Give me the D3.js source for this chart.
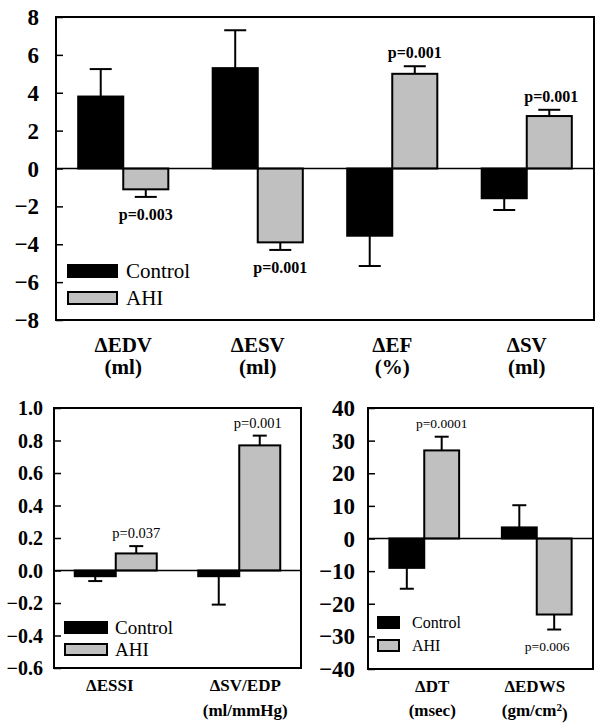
<!DOCTYPE html>
<html><head><meta charset="utf-8">
<script src="https://cdn.jsdelivr.net/npm/d3@7"></script>
<style>body{margin:0;background:#fff}svg{display:block}</style>
</head><body>
<script>
// ---- data ----
const series = ["Control", "AHI"];

const topCats = ["EDV", "ESV", "EF", "SV"];
const topUnits = ["(ml)", "(ml)", "(%)", "(ml)"];
const topControl = [3.8, 5.3, -3.55, -1.57];
const topControlErr = [1.45, 2.0, 1.6, 0.62];
const topAHI = [-1.1, -3.9, 5.0, 2.77];
const topAHIErr = [0.4, 0.4, 0.4, 0.33];
const topP = ["p=0.003", "p=0.001", "p=0.001", "p=0.001"];
const topTicks = [-8, -6, -4, -2, 0, 2, 4, 6, 8];

const blCats = ["ESSI", "SV/EDP"];
const blUnits = ["", "(ml/mmHg)"];
const blControl = [-0.035, -0.035];
const blControlErr = [0.03, 0.175];
const blAHI = [0.105, 0.77];
const blAHIErr = [0.045, 0.06];
const blP = ["p=0.037", "p=0.001"];
const blTicks = [-0.6, -0.4, -0.2, 0.0, 0.2, 0.4, 0.6, 0.8, 1.0];

const brCats = ["DT", "EDWS"];
const brUnits = ["(msec)", "(gm/cm\u00B2)"];
const brControl = [-9.0, 3.4];
const brControlErr = [6.4, 6.8];
const brAHI = [27.0, -23.3];
const brAHIErr = [4.2, 4.6];
const brP = ["p=0.0001", "p=0.006"];
const brTicks = [-40, -30, -20, -10, 0, 10, 20, 30, 40];

const FONT = "'Liberation Serif', 'Times New Roman', Times, 'DejaVu Serif', serif";
const svg = d3.select("body").append("svg").attr("width", 600).attr("height", 724)
  .attr("font-family", FONT).style("font-family", FONT);

function txt(g) {
  return g.append("text").attr("font-family", FONT).style("font-family", FONT);
}

function panel(o) {
  const g = svg.append("g");
  const x = d3.scaleBand().domain(o.cats).range([o.x0, o.x1]);
  const y = d3.scaleLinear().domain(o.domain).range([o.y1, o.y0]);
  const bw = x.bandwidth() * o.barFrac;
  const rows = o.cats.map((c, i) => ({
    cat: c, i,
    vals: [
      {s: "Control", v: o.control[i], e: o.controlErr[i]},
      {s: "AHI", v: o.ahi[i], e: o.ahiErr[i]}
    ]
  }));
  rows.forEach(r => {
    const cx = x(r.cat) + x.bandwidth() / 2;
    const xs = d3.scaleBand().domain(series).range([cx - bw, cx + bw]);
    r.vals.forEach(d => {
      const bx = xs(d.s), w = xs.bandwidth();
      const ends = d.v >= 0 ? d.v + d.e : d.v - d.e;
      const mx = bx + w / 2;
      g.append("line").attr("x1", mx).attr("x2", mx).attr("y1", y(d.v)).attr("y2", y(ends))
        .attr("stroke", "#000").attr("stroke-width", 2);
      g.append("line").attr("x1", mx - o.cap / 2).attr("x2", mx + o.cap / 2).attr("y1", y(ends)).attr("y2", y(ends))
        .attr("stroke", "#000").attr("stroke-width", 2);
      g.append("rect").attr("x", bx).attr("width", w)
        .attr("y", y(Math.max(0, d.v))).attr("height", Math.abs(y(d.v) - y(0)))
        .attr("fill", d.s === "Control" ? "#000" : "#c0c0c0")
        .attr("stroke", "#000").attr("stroke-width", 2);
      if (d.s === "AHI") {
        const ty = d.v >= 0 ? y(ends) - o.pUp : y(ends) + o.pDown;
        txt(g).attr("x", mx + (o.pDx ? o.pDx[r.i] : 0)).attr("y", ty).attr("text-anchor", "middle")
          .attr("font-size", o.pSize).attr("font-weight", o.pBold ? "bold" : "normal")
          .text(o.p[r.i]);
      }
    });
  });
  g.append("line").attr("x1", o.x0).attr("x2", o.x1).attr("y1", y(0)).attr("y2", y(0))
    .attr("stroke", "#000").attr("stroke-width", 1.5);
  const ax = g.append("g").attr("transform", `translate(${o.x0},0)`)
    .call(d3.axisRight(y).tickValues(o.ticks).tickSize(7).tickFormat(() => ""));
  ax.select(".domain").remove();
  ax.selectAll("line").attr("stroke", "#000").attr("stroke-width", 1.5);
  o.ticks.forEach(t => {
    txt(g).attr("x", o.labX).attr("y", y(t)).attr("dy", "0.35em").attr("text-anchor", "end")
      .attr("font-size", o.tickSize).attr("font-weight", "bold").text(d3.format(o.fmt)(t));
  });
  g.append("rect").attr("x", o.x0).attr("y", o.y0).attr("width", o.x1 - o.x0).attr("height", o.y1 - o.y0)
    .attr("fill", "none").attr("stroke", "#000").attr("stroke-width", 2);
  o.cats.forEach((c, i) => {
    const cx = x(c) + x.bandwidth() / 2 + (o.catDx ? o.catDx[i] : 0);
    txt(g).attr("x", cx).attr("y", o.catY).attr("text-anchor", "middle")
      .attr("font-size", o.catSize).attr("font-weight", "bold").text("\u0394" + c);
    if (o.units[i]) {
      const t = txt(g).attr("x", cx).attr("y", o.unitY).attr("text-anchor", "middle")
        .attr("font-size", o.catSize).attr("font-weight", "bold");
      if (o.units[i].indexOf("\u00B2") >= 0) {
        const u = o.units[i].replace("\u00B2)", "");
        t.append("tspan").text(u);
        t.append("tspan").attr("dy", "-0.45em").attr("font-size", o.catSize * 0.65).text("2");
        t.append("tspan").attr("dy", "0.45em").text(")");
      } else t.text(o.units[i]);
    }
  });
  series.forEach((s, i) => {
    const ly = o.legY + i * o.legGap;
    g.append("rect").attr("x", o.legX).attr("y", ly).attr("width", o.legW).attr("height", o.legH)
      .attr("fill", s === "Control" ? "#000" : "#c0c0c0").attr("stroke", "#000").attr("stroke-width", 2);
    txt(g).attr("x", o.legTX).attr("y", ly + o.legH / 2).attr("dy", "0.35em")
      .attr("font-size", o.legSize).text(s);
  });
}

panel({
  cats: topCats, units: topUnits, control: topControl, controlErr: topControlErr,
  ahi: topAHI, ahiErr: topAHIErr, p: topP, ticks: topTicks, domain: [-8, 8], fmt: "d",
  x0: 56, x1: 594, y0: 17, y1: 320, barFrac: 0.335, cap: 22,
  pUp: 8, pDown: 23, pSize: 16, pBold: true, pDx: [0, 0, 0, 2],
  labX: 39, tickSize: 23, catY: 352, unitY: 374, catSize: 21,
  legX: 68, legY: 265, legGap: 27, legW: 49, legH: 12, legTX: 126, legSize: 21
});

panel({
  cats: blCats, units: blUnits, control: blControl, controlErr: blControlErr,
  ahi: blAHI, ahiErr: blAHIErr, p: blP, ticks: blTicks, domain: [-0.6, 1.0], fmt: ".1f",
  x0: 54, x1: 301, y0: 408, y1: 668, barFrac: 0.332, cap: 14,
  pUp: 8, pDown: 20, pSize: 14.5, pBold: false, pDx: [0, -2],
  labX: 43, tickSize: 20, catY: 691, unitY: 716, catSize: 17, catDx: [-6, 6],
  legX: 65, legY: 622, legGap: 22, legW: 42, legH: 11, legTX: 115, legSize: 19
});

panel({
  cats: brCats, units: brUnits, control: brControl, controlErr: brControlErr,
  ahi: brAHI, ahiErr: brAHIErr, p: brP, ticks: brTicks, domain: [-40, 40], fmt: "d",
  x0: 368, x1: 593, y0: 408, y1: 669, barFrac: 0.31, cap: 14,
  pUp: 9, pDown: 21, pSize: 13.5, pBold: false, pDx: [0, -7],
  labX: 355, tickSize: 23, catY: 692, unitY: 716, catSize: 17, catDx: [8, -2],
  legX: 378, legY: 617, legGap: 23, legW: 21, legH: 11, legTX: 412, legSize: 16
});
</script>
</body></html>
